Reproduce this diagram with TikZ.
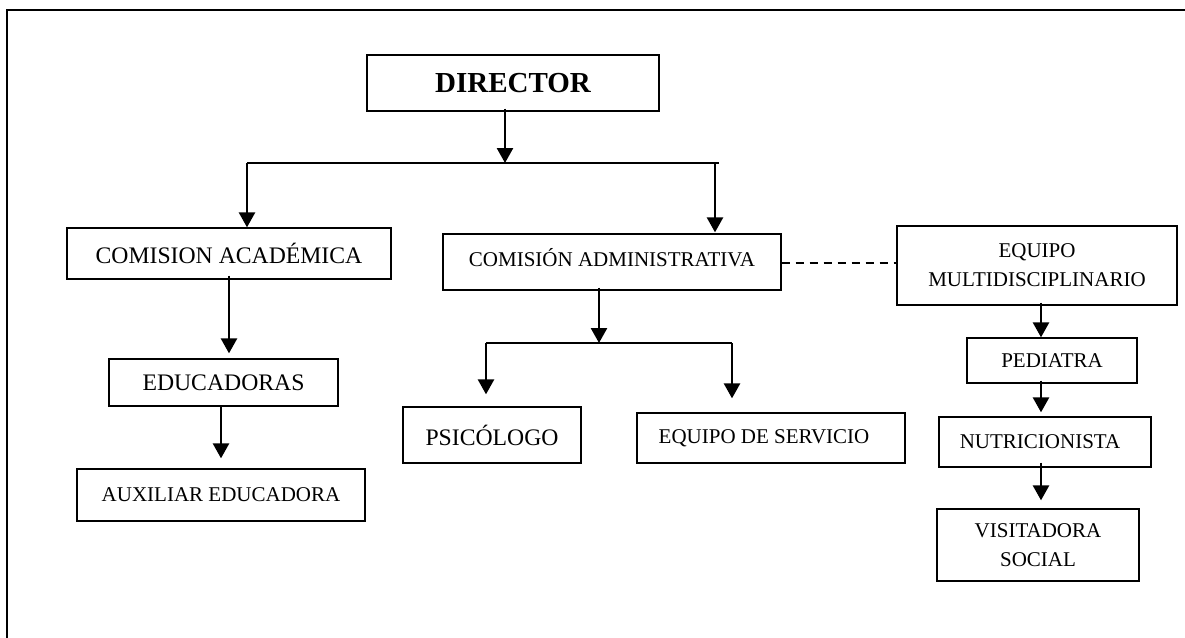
\documentclass[tikz,border=0pt]{standalone}
\usepackage{fontspec}
\setmainfont{Liberation Serif}
\usetikzlibrary{arrows.meta}
\begin{document}
\begin{tikzpicture}[x=1pt,y=-1pt,
    box/.style={draw,line width=1.3pt,inner sep=0pt,align=center,font=\fontsize{21}{29}\selectfont},
    big/.style={font=\fontsize{23.7}{28}\selectfont},
    arr/.style={line width=2.6pt,-{Triangle[width=16pt,length=15pt]}},
    bar/.style={line width=2.6pt}]
	  \useasboundingbox (0,0) rectangle (1185,637);
	  \clip (0,0) rectangle (1185,637);
	  \draw[line width=1.3pt] (7,10) rectangle (1200,660);

	  \node[box,minimum width=292pt,minimum height=56pt,font=\fontsize{29}{34}\selectfont\bfseries] (dir) at (513,83) {DIRECTOR};
	  \node[box,big,minimum width=324pt,minimum height=51pt] (acad) at (229,253.5) {COMISION ACADÉMICA};
	  \node[box,minimum width=338pt,minimum height=56pt] (adm) at (612,262) {\raisebox{10pt}{COMISIÓN ADMINISTRATIVA}};
	  \node[box,minimum width=280pt,minimum height=79pt] (multi) at (1037,265.5) {EQUIPO\\MULTIDISCIPLINARIO};
	  \node[box,big,minimum width=229pt,minimum height=47pt] (edu) at (223.5,382.5) {EDUCADORAS};
	  \node[box,minimum width=288pt,minimum height=52pt] (aux) at (221,495) {AUXILIAR EDUCADORA};
	  \node[box,big,minimum width=178pt,minimum height=56pt] (psi) at (492,435) {PSICÓLOGO};
	  \node[box,minimum width=268pt,minimum height=50pt] (serv) at (771,438) {EQUIPO DE SERVICIO\hspace{14pt}};
	  \node[box,minimum width=170pt,minimum height=45pt] (pedi) at (1052,360.5) {PEDIATRA};
	  \node[box,minimum width=212pt,minimum height=50pt] (nutri) at (1045,442) {NUTRICIONISTA\hspace{10pt}};
	  \node[box,minimum width=202pt,minimum height=72pt] (visit) at (1038,545) {VISITADORA\\SOCIAL};

	  \coordinate (barL) at (247,163);
	  \coordinate (barM) at (505,163);
	  \coordinate (barR) at (719,163);
	  \coordinate (brL) at (486,343);
	  \coordinate (brM) at (599,343);
	  \coordinate (brR) at (732,343);
	  \coordinate (col) at (1041,0);

	  \draw[bar] (barL) -- (barR) (brL) -- (brR);
	  \draw[arr] ([yshift=3pt]dir.south -| barM) -- (barM);
	  \draw[arr] (barL) -- (barL |- acad.north);
	  \draw[arr,shorten >=1pt] (barR -| 715,0) -- (adm.north -| 715,0);
	  \draw[arr,shorten >=5pt] ([yshift=4pt]acad.south) -- (acad.south |- edu.north);
	  \draw[arr,shorten >=10pt] (edu.south -| aux.north) -- (aux.north);
	  \draw[arr] ([yshift=3pt]adm.south -| brM) -- (brM);
	  \draw[arr,shorten >=12pt] (brL) -- (brL |- psi.north);
	  \draw[arr,shorten >=14pt] (brR) -- (brR |- serv.north);
	  \draw[line width=2pt,dash pattern=on 8pt off 6pt] (adm.east |- 0,263) -- (multi.west |- 0,263);
	  \draw[arr] ([yshift=3pt]multi.south -| col) -- (pedi.north -| col);
	  \draw[arr,shorten >=4pt] ([yshift=3pt]pedi.south -| col) -- (nutri.north -| col);
	  \draw[arr,shorten >=8pt] ([yshift=5pt]nutri.south -| col) -- (visit.north -| col);
	\end{tikzpicture}
\end{document}
